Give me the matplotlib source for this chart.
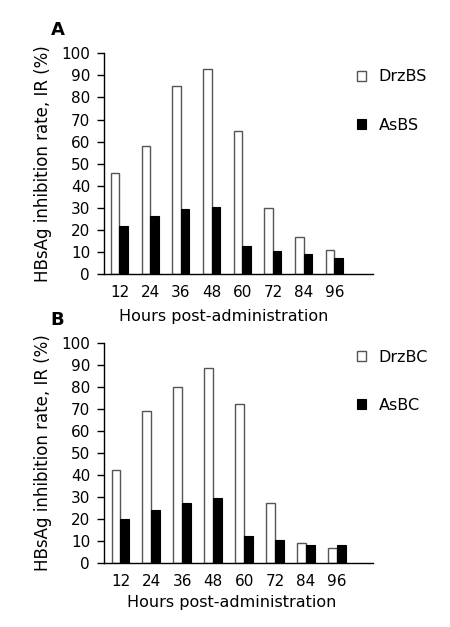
import matplotlib
matplotlib.use("Agg")
import matplotlib.pyplot as plt
import numpy as np

hours = ["12", "24", "36", "48", "60", "72", "84", "96"]

drz_bs = [46, 58, 85, 93, 65, 30, 17, 11]
as_bs = [22, 26.5, 29.5, 30.5, 13, 10.5, 9, 7.5]

drz_bc = [42.5, 69, 80, 88.5, 72, 27.5, 9, 7]
as_bc = [20, 24, 27.5, 29.5, 12.5, 10.5, 8.5, 8.5]

plt.rcParams['font.family'] = ['DejaVu Sans']
plt.rcParams['font.size'] = 11

fig = plt.figure(figsize=(4.5, 6.27), dpi=100)


def panel(rect, white, black, names, letter, xlim, width, leg_y, xlab_pos):
    ax = fig.add_axes(rect)
    x = np.arange(len(hours))
    b1 = ax.bar(x - width / 2, white, width, color="white", edgecolor="#555555",
                linewidth=1.0, label=names[0])
    b2 = ax.bar(x + width / 2, black, width, color="black", edgecolor="black",
                linewidth=0.8, label=names[1])
    ax.set_xlim(*xlim)
    ax.set_ylim(0, 100)
    ax.set_yticks(range(0, 101, 10))
    ax.set_xticks(x)
    ax.set_xticklabels(hours)
    ax.tick_params(axis="x", length=0, pad=8, labelsize=11)
    ax.tick_params(axis="y", length=5, width=1.0, pad=5, labelsize=11)
    for s in ["top", "right"]:
        ax.spines[s].set_visible(False)
    for s in ["left", "bottom"]:
        ax.spines[s].set_linewidth(1.0)
    ax.set_xlabel("Hours post-administration", fontsize=11.5)
    ax.xaxis.set_label_coords(*xlab_pos)
    ax.set_ylabel("HBsAg inhibition rate, IR (%)", fontsize=12, labelpad=7)
    ax.legend(handles=[b1, b2], loc="upper left", bbox_to_anchor=(0.793, leg_y),
              bbox_transform=fig.transFigure, frameon=False, fontsize=11.5,
              handlelength=0.56, handleheight=0.56, handletextpad=0.81,
              labelspacing=2.08, borderpad=0, borderaxespad=0)
    fig.text(0.113, rect[1] + rect[3] + 0.029, letter, fontsize=13, fontweight="bold",
             ha="left", va="baseline")
    return ax


panel([0.2311, 0.5625, 0.5978, 0.3525], drz_bs, as_bs, ["DrzBS", "AsBS"], "A",
      (-0.505, 8.26), 0.277, 0.8895, (0.446, -0.155))
panel([0.2311, 0.1016, 0.5978, 0.3518], drz_bc, as_bc, ["DrzBC", "AsBC"], "B",
      (-0.534, 8.17), 0.29, 0.4425, (0.476, -0.145))

fig.savefig("out.png", dpi=100)
